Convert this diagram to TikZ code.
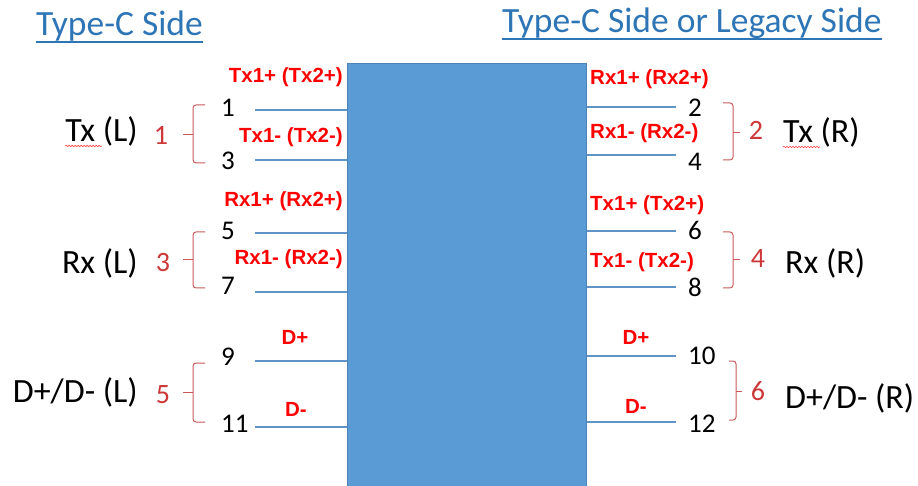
\documentclass[tikz,border=0pt]{standalone}
\usepackage{fontspec}
\setmainfont{Carlito}
\newfontfamily\sigfont{Liberation Sans}
\usepackage{tikz}
\usetikzlibrary{decorations.pathmorphing}
\definecolor{chipblue}{RGB}{91,155,213}
\definecolor{wireblue}{RGB}{96,148,198}
\definecolor{titleblue}{RGB}{46,117,182}
\definecolor{bracered}{RGB}{200,90,90}
\definecolor{groupred}{RGB}{205,55,55}
\tikzstyle{chip} =
[rectangle, minimum width = 239pt, minimum height = 423pt,
draw=chipblue!85!black, line width=1pt, fill=chipblue]
\tikzstyle{title} =
[inner sep=0pt, anchor=base west, text=titleblue,
font=\fontsize{35.5}{40}\selectfont]
\tikzstyle{titleline} = [draw=titleblue, line width=2pt]
\tikzstyle{pin} =
[inner sep=0pt, anchor=west, font=\fontsize{27}{30}\selectfont]
\tikzstyle{sig} =
[inner sep=0pt, text=red, font=\sigfont\bfseries\fontsize{20.5}{24}\selectfont]
\tikzstyle{grp} =
[inner sep=0pt, font=\fontsize{34}{38}\selectfont]
\tikzstyle{grpnum} =
[inner sep=0pt, anchor=base, text=groupred, font=\fontsize{28}{30}\selectfont]
\tikzstyle{wire} = [draw=wireblue, line width=2pt]
\tikzstyle{brace} = [draw=bracered, line width=1pt, rounded corners=3pt]
\tikzstyle{spell} =
[draw=red!75, line width=0.6pt, decorate,
decoration={snake, amplitude=0.7pt, segment length=3pt}]

\begin{document}
\begin{tikzpicture}[x=1pt, y=-1pt]
  \useasboundingbox (0,0) rectangle (918,486);
  % titles
  \node [title] (tleft) at (36,36) {Type-C Side};
  \node [title] (tright) at (502,33) {Type-C Side or Legacy Side};
  \path [titleline] ([yshift=-6pt]tleft.base west) -- ([yshift=-6pt]tleft.base east);
  \path [titleline] ([yshift=-6.5pt]tright.base west) -- ([yshift=-6.5pt]tright.base east);
  %
  % chip
  \node [chip, anchor=north west] (chip) at (347,63) {};
  %
  % left side wires and pins
  \foreach \n/\y/\py in {1/110/108,3/160/161,5/233/231,7/292/286,9/361/357,11/427/424} {
    \coordinate (w\n) at (255,\y);
    \path [wire] (w\n) -- (w\n -| chip.west);
    \node [pin] (p\n) at (221,\py) {\n};
  }
  % right side wires and pins
  \foreach \n/\y/\py in {2/107/108,4/155/162,6/231/230,8/287/287,10/356/356,12/422/424} {
    \coordinate (w\n) at (676,\y);
    \path [wire] (w\n) -- (w\n -| chip.east);
    \node [pin] (p\n) at (688,\py) {\n};
  }
  %
  % left signal names
  \node [sig, anchor=base east] (stxp) at (343,83) {Tx1+ (Tx2+)};
  \node [sig, anchor=base east] (stxn) at (343,143) {Tx1- (Tx2-)};
  \node [sig, anchor=base east] (srxp) at (343,207) {Rx1+ (Rx2+)};
  \node [sig, anchor=base east] (srxn) at (343,265) {Rx1- (Rx2-)};
  \node [sig, anchor=base] (sdp) at (295,344) {D+};
  \node [sig, anchor=base] (sdn) at (296,416) {D-};
  % right signal names
  \node [sig, anchor=base west] (rrxp) at (590,85) {Rx1+ (Rx2+)};
  \node [sig, anchor=base west] (rrxn) at (590,139) {Rx1- (Rx2-)};
  \node [sig, anchor=base west] (rtxp) at (590,211) {Tx1+ (Tx2+)};
  \node [sig, anchor=base west] (rtxn) at (590,268) {Tx1- (Tx2-)};
  \node [sig, anchor=base] (rdp) at (636,344) {D+};
  \node [sig, anchor=base] (rdn) at (636,413) {D-};
  %
  % left groups
  \path [brace] (205,105) -- (193,105) -- (193,163) -- (205,163);
  \path [brace] (193,135) -- (183,135);
  \path [brace] (205,232) -- (193,232) -- (193,288) -- (205,288);
  \path [brace] (193,260) -- (183,260);
  \path [brace] (205,363) -- (193,363) -- (193,422) -- (205,422);
  \path [brace] (193,392) -- (183,392);
  \node [grpnum] (g1) at (161,145) {1};
  \node [grpnum] (g3) at (163,272) {3};
  \node [grpnum] (g5) at (163,403) {5};
  \node [grp, anchor=base east] (txl) at (138,142) {Tx (L)};
  \node [grp, anchor=base east] (rxl) at (138,273) {Rx (L)};
  \node [grp, anchor=base east] (dl) at (138,402) {D+/D- (L)};
  \path [spell] ([yshift=-4pt]txl.base west) -- ++(37,0);
  %
  % right groups
  \path [brace] (723,103) -- (733,103) -- (733,160) -- (723,160);
  \path [brace] (733,133) -- (740,133);
  \path [brace] (723,232) -- (733,232) -- (733,288) -- (723,288);
  \path [brace] (733,260) -- (740,260);
  \path [brace] (729,361) -- (736,361) -- (736,420) -- (729,420);
  \path [brace] (736,391) -- (742,391);
  \node [grpnum] (g2) at (756,140) {2};
  \node [grpnum] (g4) at (758,268) {4};
  \node [grpnum] (g6) at (758,400) {6};
  \node [grp, anchor=base west] (txr) at (783,143) {Tx (R)};
  \node [grp, anchor=base west] (rxr) at (785,273) {Rx (R)};
  \node [grp, anchor=base west] (dr) at (785,408) {D+/D- (R)};
  \path [spell] ([yshift=-4pt]txr.base west) -- ++(37,0);
\end{tikzpicture}
\end{document}
